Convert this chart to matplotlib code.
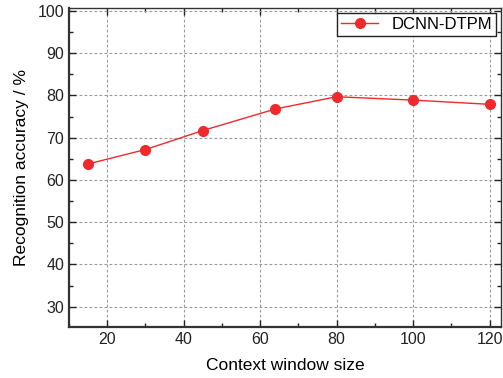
import numpy as np
import matplotlib
matplotlib.use("Agg")
import matplotlib.pyplot as plt
from matplotlib.ticker import MultipleLocator

plt.rcParams['font.family'] = ['Liberation Sans', 'DejaVu Sans']

# context window sizes and accuracies
window = [15, 30, 45, 64, 80, 100, 120]
accuracy = [63.8, 67.2, 71.7, 76.8, 79.7, 78.9, 77.9]

fig = plt.figure(figsize=(5.03, 3.78), dpi=100)
ax = fig.add_axes([69/503, 1-327/378, (501-69)/503, (327-8)/378])

ax.plot(window, accuracy, '-o', color='#ee2a2e', lw=1.0, ms=7,
        label='DCNN-DTPM', zorder=3)

ax.set_xlim(10, 123)
ax.set_ylim(25.2, 100.7)
ax.xaxis.set_major_locator(MultipleLocator(20))
ax.xaxis.set_minor_locator(MultipleLocator(10))
ax.yaxis.set_major_locator(MultipleLocator(10))
ax.yaxis.set_minor_locator(MultipleLocator(5))
ax.set_yticks(range(30, 101, 10))

ax.grid(True, which='major', ls=(0, (2.5, 2)), color='#999999', lw=0.8)
ax.tick_params(which='both', direction='in', top=True, right=True,
               labelsize=11.5, colors='#222222')
ax.tick_params(which='major', length=5, width=1)
ax.tick_params(which='minor', length=3, width=1)
for s in ax.spines.values():
    s.set_linewidth(1.0)
    s.set_color('#333333')
ax.spines['left'].set_linewidth(1.6)
ax.spines['bottom'].set_linewidth(1.6)

ax.set_xlabel('Context window size', fontsize=12.5, labelpad=8)
ax.set_ylabel('Recognition accuracy / %', fontsize=12.5, labelpad=6)

leg = ax.legend(loc='upper right', fontsize=12, fancybox=False,
                edgecolor='#222222', framealpha=1, borderaxespad=0.3,
                handlelength=2.2, borderpad=0.25)
leg.get_frame().set_linewidth(1.0)

fig.savefig('out.png', dpi=100)
